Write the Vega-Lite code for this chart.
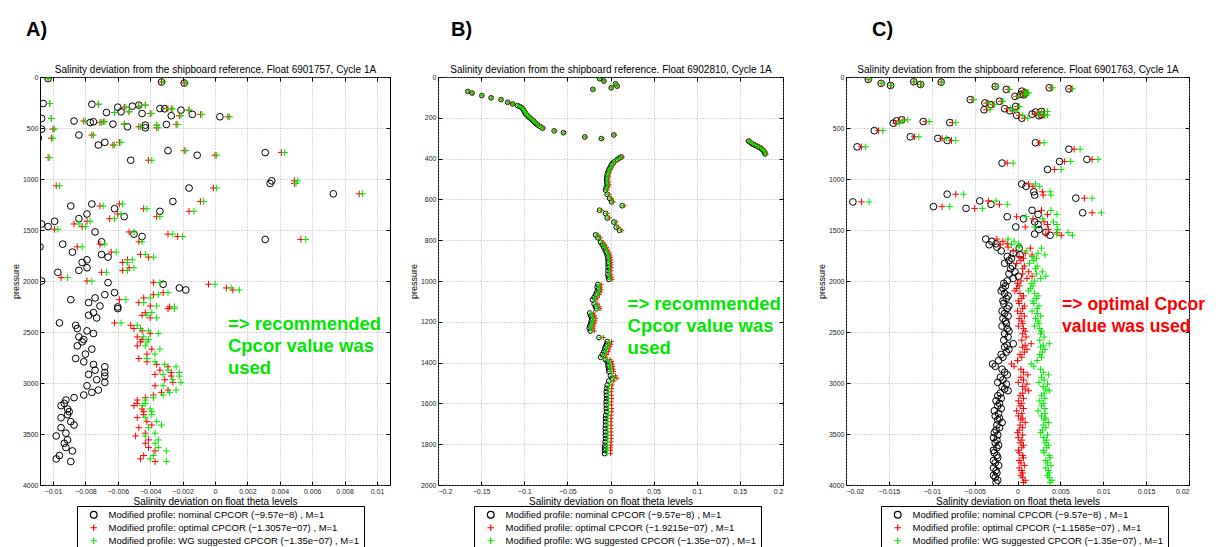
{
"$schema": "https://vega.github.io/schema/vega-lite/v6.json",
"padding": {"left": 10, "top": 19, "right": 0, "bottom": 0},
"background": "white",
"config": {
  "font": "Liberation Sans",
  "view": {"stroke": "#000", "strokeWidth": 1},
  "axis": {"domain": false, "tickSize": -4, "tickColor": "#000", "tickWidth": 1, "labelFontSize": 7, "labelColor": "#222", "labelPadding": 6, "titleFontSize": 10, "titleFontWeight": "normal", "titleColor": "#000", "gridColor": "#a0a0a0", "gridDash": [1, 2], "gridWidth": 0.8, "titlePadding": 2},
  "axisY": {"titleFontSize": 9, "titleFontWeight": "normal"},
  "legend": {"orient": "none", "direction": "vertical", "strokeColor": "#000", "strokeWidth": 1, "fillColor": "#fff", "padding": 4, "labelFontSize": 9.5, "labelLimit": 400, "labelColor": "#000", "symbolStrokeWidth": 1.2, "symbolSize": 45, "rowPadding": 0, "labelOffset": 10, "symbolOffset": 8, "cornerRadius": 0},
  "title": {"anchor": "start", "frame": "group", "fontSize": 20, "fontWeight": "bold", "color": "#000", "offset": 25}
},
"datasets": {
"A": [
{"p":16,"n":-0.0103,"o":-0.0103,"w":-0.0103},{"p":49,"n":-0.0033,"o":-0.0033,"w":-0.0032},{"p":59,"n":-0.0019,"o":-0.0019,"w":-0.0018},
{"p":260,"n":-0.0106,"o":-0.0102,"w":-0.0102},{"p":267,"n":-0.0076,"o":-0.0072,"w":-0.0072},{"p":296,"n":-0.006,"o":-0.0056,"w":-0.0055},
{"p":341,"n":-0.0058,"o":-0.0053,"w":-0.0053},{"p":286,"n":-0.0051,"o":-0.0047,"w":-0.0047},{"p":276,"n":-0.0047,"o":-0.0043,"w":-0.0043},
{"p":309,"n":-0.0034,"o":-0.003,"w":-0.0029},{"p":312,"n":-0.0031,"o":-0.0027,"w":-0.0026},{"p":325,"n":-0.0021,"o":-0.0016,"w":-0.0016},
{"p":348,"n":-0.0067,"o":-0.0062,"w":-0.0062},{"p":358,"n":-0.0045,"o":-0.004,"w":-0.0039},{"p":380,"n":-0.0027,"o":-0.0022,"w":-0.0021},
{"p":367,"n":-0.0014,"o":-0.0009,"w":-0.0008},{"p":390,"n":0.0003,"o":0.0008,"w":0.0009},{"p":406,"n":-0.0107,"o":-0.0101,"w":-0.0101},
{"p":432,"n":-0.0087,"o":-0.0081,"w":-0.008},{"p":446,"n":-0.0077,"o":-0.0071,"w":-0.007},{"p":439,"n":-0.0075,"o":-0.0069,"w":-0.0068},
{"p":462,"n":-0.0063,"o":-0.0056,"w":-0.0056},{"p":488,"n":-0.0054,"o":-0.0047,"w":-0.0046},{"p":472,"n":-0.0043,"o":-0.0036,"w":-0.0036},
{"p":498,"n":-0.0043,"o":-0.0036,"w":-0.0035},{"p":465,"n":-0.003,"o":-0.0024,"w":-0.0023},{"p":511,"n":-0.0107,"o":-0.01,"w":-0.0099},
{"p":600,"n":-0.0109,"o":-0.0101,"w":-0.01},{"p":569,"n":-0.0084,"o":-0.0076,"w":-0.0075},{"p":667,"n":-0.0072,"o":-0.0063,"w":-0.0062},
{"p":641,"n":-0.0068,"o":-0.0059,"w":-0.0058},{"p":722,"n":-0.0029,"o":-0.0019,"w":-0.0018},{"p":767,"n":-0.0011,"o":0.0,"w":0.0001},
{"p":816,"n":-0.0052,"o":-0.0041,"w":-0.0039},{"p":790,"n":-0.0114,"o":-0.0103,"w":-0.0102},{"p":741,"n":0.0031,"o":0.0041,"w":0.0043},
{"p":1018,"n":0.0035,"o":0.0049,"w":0.0051},{"p":1044,"n":0.0034,"o":0.0049,"w":0.005},{"p":1089,"n":-0.0016,"o":-0.0001,"w":0.0001},
{"p":1145,"n":0.0073,"o":0.0089,"w":0.0091},{"p":1067,"n":-0.0113,"o":-0.0098,"w":-0.0096},{"p":1265,"n":-0.0089,"o":-0.0071,"w":-0.0069},
{"p":1245,"n":-0.0076,"o":-0.0059,"w":-0.0057},{"p":1291,"n":-0.0062,"o":-0.0044,"w":-0.0042},{"p":1343,"n":-0.0079,"o":-0.006,"w":-0.0058},
{"p":1369,"n":-0.0056,"o":-0.0036,"w":-0.0034},{"p":1389,"n":-0.0084,"o":-0.0065,"w":-0.0062},{"p":1317,"n":-0.0034,"o":-0.0016,"w":-0.0013},
{"p":1220,"n":-0.0026,"o":-0.0009,"w":-0.0007},{"p":1441,"n":-0.0107,"o":-0.0087,"w":-0.0084},{"p":1467,"n":-0.0103,"o":-0.0082,"w":-0.008},
{"p":1415,"n":-0.0099,"o":-0.0079,"w":-0.0077},{"p":1519,"n":-0.0074,"o":-0.0053,"w":-0.005},{"p":1541,"n":-0.005,"o":-0.0029,"w":-0.0026},
{"p":1564,"n":-0.0045,"o":-0.0023,"w":-0.002},{"p":1593,"n":0.0031,"o":0.0053,"w":0.0056},{"p":1493,"n":-0.012,"o":-0.0099,"w":-0.0097},
{"p":1616,"n":-0.007,"o":-0.0047,"w":-0.0045},{"p":1665,"n":-0.0108,"o":-0.0085,"w":-0.0082},{"p":1639,"n":-0.0094,"o":-0.0071,"w":-0.0068},
{"p":1717,"n":-0.0088,"o":-0.0064,"w":-0.0061},{"p":1740,"n":-0.007,"o":-0.0046,"w":-0.0043},{"p":1766,"n":-0.0066,"o":-0.0041,"w":-0.0038},
{"p":1818,"n":-0.0082,"o":-0.0057,"w":-0.0054},{"p":1792,"n":-0.0079,"o":-0.0054,"w":-0.0051},{"p":1896,"n":-0.0084,"o":-0.0057,"w":-0.0054},
{"p":1870,"n":-0.0079,"o":-0.0053,"w":-0.005},{"p":1915,"n":-0.0097,"o":-0.007,"w":-0.0067},{"p":1967,"n":-0.0122,"o":-0.0095,"w":-0.0091},
{"p":2000,"n":-0.0107,"o":-0.0079,"w":-0.0076},{"p":2016,"n":-0.0066,"o":-0.0038,"w":-0.0034},{"p":2032,"n":-0.0032,"o":-0.0004,"w":0.0},
{"p":2068,"n":-0.0022,"o":0.0007,"w":0.001},{"p":2088,"n":-0.0018,"o":0.0011,"w":0.0015},
{"p":2183,"n":-0.0089,"o":-0.0059,"w":-0.0055},{"p":2212,"n":-0.0078,"o":-0.0047,"w":-0.0044},{"p":2166,"n":-0.0074,"o":-0.0044,"w":-0.004},
{"p":2134,"n":-0.0068,"o":-0.0038,"w":-0.0035},{"p":2245,"n":-0.0071,"o":-0.004,"w":-0.0036},{"p":2114,"n":-0.0062,"o":-0.0032,"w":-0.0029},
{"p":2271,"n":-0.006,"o":-0.0029,"w":-0.0025},{"p":2254,"n":-0.006,"o":-0.0028,"w":-0.0025},{"p":2310,"n":-0.0075,"o":-0.0043,"w":-0.0039},
{"p":2336,"n":-0.0078,"o":-0.0045,"w":-0.0042},{"p":2362,"n":-0.0073,"o":-0.004,"w":-0.0036},{"p":2411,"n":-0.0096,"o":-0.0062,"w":-0.0058},
{"p":2434,"n":-0.0086,"o":-0.0052,"w":-0.0048},{"p":2466,"n":-0.0085,"o":-0.005,"w":-0.0046},{"p":2489,"n":-0.0079,"o":-0.0045,"w":-0.0041},
{"p":2515,"n":-0.0075,"o":-0.004,"w":-0.0035},{"p":2548,"n":-0.0084,"o":-0.0048,"w":-0.0044},{"p":2574,"n":-0.0081,"o":-0.0045,"w":-0.0041},
{"p":2597,"n":-0.0082,"o":-0.0046,"w":-0.0042},{"p":2636,"n":-0.0085,"o":-0.0048,"w":-0.0043},{"p":2668,"n":-0.0076,"o":-0.0039,"w":-0.0034},
{"p":2717,"n":-0.008,"o":-0.0042,"w":-0.0037},{"p":2760,"n":-0.0086,"o":-0.0047,"w":-0.0042},{"p":2792,"n":-0.0081,"o":-0.0042,"w":-0.0037},
{"p":2818,"n":-0.0075,"o":-0.0036,"w":-0.0031},{"p":2841,"n":-0.0068,"o":-0.0029,"w":-0.0024},{"p":2874,"n":-0.0074,"o":-0.0034,"w":-0.0029},
{"p":2916,"n":-0.0078,"o":-0.0037,"w":-0.0032},{"p":2897,"n":-0.0068,"o":-0.0027,"w":-0.0022},{"p":2932,"n":-0.0068,"o":-0.0027,"w":-0.0022},
{"p":2968,"n":-0.0073,"o":-0.0031,"w":-0.0026},{"p":2994,"n":-0.0068,"o":-0.0026,"w":-0.0021},{"p":3027,"n":-0.0079,"o":-0.0037,"w":-0.0032},
{"p":3069,"n":-0.0072,"o":-0.0029,"w":-0.0024},{"p":3092,"n":-0.0076,"o":-0.0033,"w":-0.0028},{"p":3118,"n":-0.0081,"o":-0.0038,"w":-0.0032},
{"p":3144,"n":-0.0087,"o":-0.0043,"w":-0.0038},{"p":3167,"n":-0.0092,"o":-0.0048,"w":-0.0043},{"p":3200,"n":-0.0093,"o":-0.0048,"w":-0.0043},
{"p":3222,"n":-0.0095,"o":-0.005,"w":-0.0045},{"p":3255,"n":-0.0091,"o":-0.0045,"w":-0.004},{"p":3281,"n":-0.009,"o":-0.0044,"w":-0.0039},
{"p":3340,"n":-0.0095,"o":-0.0048,"w":-0.0043},{"p":3310,"n":-0.0091,"o":-0.0044,"w":-0.0039},{"p":3379,"n":-0.0089,"o":-0.0042,"w":-0.0036},
{"p":3412,"n":-0.0087,"o":-0.0039,"w":-0.0033},{"p":3438,"n":-0.0095,"o":-0.0047,"w":-0.0041},{"p":3519,"n":-0.0098,"o":-0.0049,"w":-0.0043},
{"p":3492,"n":-0.0092,"o":-0.0043,"w":-0.0037},{"p":3558,"n":-0.0091,"o":-0.0041,"w":-0.0035},{"p":3591,"n":-0.0093,"o":-0.0043,"w":-0.0037},
{"p":3633,"n":-0.0092,"o":-0.0041,"w":-0.0035},{"p":3666,"n":-0.0088,"o":-0.0037,"w":-0.003},{"p":3711,"n":-0.0096,"o":-0.0044,"w":-0.0038},
{"p":3744,"n":-0.0098,"o":-0.0046,"w":-0.004},{"p":3770,"n":-0.0089,"o":-0.0037,"w":-0.003}
],
"B": [
{"p":8,"n":-0.0127,"o":-0.0127,"w":-0.0127},{"p":20,"n":-0.0077,"o":-0.0076,"w":-0.0077},{"p":61,"n":-0.0204,"o":-0.0202,"w":-0.0203},
{"p":33,"n":0.0058,"o":0.0059,"w":0.0059},{"p":45,"n":0.0077,"o":0.0079,"w":0.0078},{"p":53,"n":0.0008,"o":0.001,"w":0.0009},
{"p":71,"n":-0.1654,"o":-0.1651,"w":-0.1653},{"p":79,"n":-0.1604,"o":-0.1601,"w":-0.1603},{"p":91,"n":-0.1492,"o":-0.1489,"w":-0.1491},
{"p":102,"n":-0.1384,"o":-0.138,"w":-0.1382},{"p":111,"n":-0.1269,"o":-0.1265,"w":-0.1267},{"p":124,"n":-0.1192,"o":-0.1187,"w":-0.119},
{"p":132,"n":-0.1134,"o":-0.1129,"w":-0.1132},{"p":140,"n":-0.1076,"o":-0.1071,"w":-0.1074},{"p":145,"n":-0.105,"o":-0.1044,"w":-0.1048},
{"p":152,"n":-0.1026,"o":-0.102,"w":-0.1024},{"p":160,"n":-0.101,"o":-0.1004,"w":-0.1007},{"p":169,"n":-0.0999,"o":-0.0993,"w":-0.0996},
{"p":175,"n":-0.099,"o":-0.0983,"w":-0.0987},{"p":182,"n":-0.098,"o":-0.0973,"w":-0.0977},{"p":188,"n":-0.0965,"o":-0.0958,"w":-0.0962},
{"p":195,"n":-0.0949,"o":-0.0942,"w":-0.0946},{"p":200,"n":-0.0935,"o":-0.0927,"w":-0.0932},{"p":208,"n":-0.0914,"o":-0.0906,"w":-0.0911},
{"p":214,"n":-0.09,"o":-0.0892,"w":-0.0897},{"p":220,"n":-0.0884,"o":-0.0876,"w":-0.088},{"p":228,"n":-0.0865,"o":-0.0856,"w":-0.0861},
{"p":235,"n":-0.0845,"o":-0.0836,"w":-0.0841},{"p":243,"n":-0.0815,"o":-0.0806,"w":-0.0811},{"p":251,"n":-0.0787,"o":-0.0777,"w":-0.0783},
{"p":264,"n":-0.0653,"o":-0.0643,"w":-0.0649},{"p":273,"n":-0.0545,"o":-0.0535,"w":-0.0541},{"p":284,"n":0.0039,"o":0.005,"w":0.0044},
{"p":294,"n":-0.0298,"o":-0.0287,"w":-0.0293},{"p":302,"n":-0.0106,"o":-0.0095,"w":-0.0101},
{"p":314,"n":0.16,"o":0.1612,"w":0.1605},{"p":320,"n":0.162,"o":0.1632,"w":0.1625},{"p":326,"n":0.1638,"o":0.165,"w":0.1643},
{"p":331,"n":0.166,"o":0.1673,"w":0.1665},{"p":336,"n":0.1684,"o":0.1697,"w":0.1689},{"p":342,"n":0.171,"o":0.1723,"w":0.1715},
{"p":347,"n":0.1735,"o":0.1748,"w":0.1741},{"p":354,"n":0.1755,"o":0.1768,"w":0.1761},{"p":360,"n":0.1773,"o":0.1787,"w":0.1779},
{"p":368,"n":0.1785,"o":0.1799,"w":0.1791},{"p":377,"n":0.1792,"o":0.1806,"w":0.1798},
{"p":392,"n":0.0125,"o":0.014,"w":0.0131},{"p":398,"n":0.01,"o":0.0115,"w":0.0106},{"p":405,"n":0.0077,"o":0.0092,"w":0.0083},
{"p":417,"n":0.0039,"o":0.0055,"w":0.0046},{"p":425,"n":0.002,"o":0.0036,"w":0.0027},{"p":433,"n":0.0008,"o":0.0024,"w":0.0015},
{"p":445,"n":-0.0005,"o":0.0012,"w":0.0002},{"p":455,"n":-0.0019,"o":-0.0002,"w":-0.0012},{"p":467,"n":-0.003,"o":-0.0012,"w":-0.0023},
{"p":479,"n":-0.0038,"o":-0.002,"w":-0.003},{"p":491,"n":-0.0042,"o":-0.0023,"w":-0.0034},{"p":504,"n":-0.0046,"o":-0.0027,"w":-0.0038},
{"p":516,"n":-0.0043,"o":-0.0023,"w":-0.0035},{"p":529,"n":-0.0038,"o":-0.0018,"w":-0.003},{"p":541,"n":-0.005,"o":-0.0029,"w":-0.0041},
{"p":554,"n":-0.0058,"o":-0.0037,"w":-0.0049},{"p":575,"n":-0.0038,"o":-0.0016,"w":-0.0029},{"p":595,"n":-0.001,"o":0.0013,"w":0.0},
{"p":612,"n":0.0012,"o":0.0035,"w":0.0022},{"p":631,"n":0.0135,"o":0.0159,"w":0.0145},{"p":653,"n":-0.0127,"o":-0.0102,"w":-0.0117},
{"p":669,"n":-0.0058,"o":-0.0033,"w":-0.0047},{"p":691,"n":-0.0038,"o":-0.0012,"w":-0.0027},{"p":711,"n":0.0039,"o":0.0066,"w":0.005},
{"p":736,"n":0.0065,"o":0.0093,"w":0.0077},{"p":752,"n":0.0104,"o":0.0133,"w":0.0116},{"p":774,"n":-0.0173,"o":-0.0144,"w":-0.0161},
{"p":788,"n":-0.0146,"o":-0.0116,"w":-0.0133},{"p":810,"n":-0.0115,"o":-0.0084,"w":-0.0102},{"p":822,"n":-0.0095,"o":-0.0064,"w":-0.0082},
{"p":835,"n":-0.0077,"o":-0.0045,"w":-0.0064},{"p":848,"n":-0.0062,"o":-0.003,"w":-0.0048},{"p":860,"n":-0.005,"o":-0.0017,"w":-0.0036},
{"p":872,"n":-0.004,"o":-0.0007,"w":-0.0026},{"p":884,"n":-0.0031,"o":0.0003,"w":-0.0017},{"p":897,"n":-0.0029,"o":0.0005,"w":-0.0015},
{"p":909,"n":-0.0027,"o":0.0008,"w":-0.0012},{"p":921,"n":-0.0027,"o":0.0008,"w":-0.0012},{"p":934,"n":-0.0027,"o":0.0008,"w":-0.0012},
{"p":950,"n":-0.0029,"o":0.0007,"w":-0.0014},{"p":967,"n":-0.0031,"o":0.0006,"w":-0.0016},{"p":980,"n":-0.0025,"o":0.0012,"w":-0.0009},
{"p":992,"n":-0.0019,"o":0.0019,"w":-0.0003},{"p":1017,"n":-0.0146,"o":-0.0107,"w":-0.013},{"p":1030,"n":-0.0155,"o":-0.0116,"w":-0.0139},
{"p":1043,"n":-0.0144,"o":-0.0104,"w":-0.0127},{"p":1055,"n":-0.016,"o":-0.012,"w":-0.0143},{"p":1067,"n":-0.0171,"o":-0.013,"w":-0.0154},
{"p":1080,"n":-0.019,"o":-0.0149,"w":-0.0173},{"p":1092,"n":-0.021,"o":-0.0168,"w":-0.0193},{"p":1113,"n":-0.019,"o":-0.0148,"w":-0.0172},
{"p":1125,"n":-0.0175,"o":-0.0132,"w":-0.0157},{"p":1136,"n":-0.0164,"o":-0.0121,"w":-0.0146},{"p":1157,"n":-0.0241,"o":-0.0197,"w":-0.0222},
{"p":1170,"n":-0.023,"o":-0.0186,"w":-0.0211},{"p":1182,"n":-0.0217,"o":-0.0172,"w":-0.0198},{"p":1195,"n":-0.0222,"o":-0.0177,"w":-0.0203},
{"p":1207,"n":-0.0229,"o":-0.0183,"w":-0.021},{"p":1220,"n":-0.024,"o":-0.0194,"w":-0.022},{"p":1231,"n":-0.0248,"o":-0.0201,"w":-0.0228},
{"p":1245,"n":-0.0235,"o":-0.0188,"w":-0.0215},{"p":1277,"n":-0.0133,"o":-0.0084,"w":-0.0113},{"p":1297,"n":-0.0038,"o":0.0011,"w":-0.0017},
{"p":1310,"n":-0.0045,"o":0.0005,"w":-0.0024},{"p":1321,"n":-0.0058,"o":-0.0008,"w":-0.0037},{"p":1333,"n":-0.0068,"o":-0.0017,"w":-0.0047},
{"p":1346,"n":-0.0077,"o":-0.0026,"w":-0.0055},{"p":1360,"n":-0.0095,"o":-0.0043,"w":-0.0073},{"p":1374,"n":-0.0115,"o":-0.0063,"w":-0.0093},
{"p":1385,"n":-0.006,"o":-0.0007,"w":-0.0038},{"p":1395,"n":-0.0038,"o":0.0015,"w":-0.0016},{"p":1408,"n":-0.003,"o":0.0024,"w":-0.0007},
{"p":1420,"n":-0.0027,"o":0.0027,"w":-0.0004},{"p":1432,"n":-0.0022,"o":0.0032,"w":0.0001},{"p":1444,"n":-0.0019,"o":0.0036,"w":0.0004},
{"p":1464,"n":0.0,"o":0.0056,"w":0.0023},{"p":1477,"n":0.0019,"o":0.0075,"w":0.0043},{"p":1490,"n":-0.002,"o":0.0037,"w":0.0004},
{"p":1510,"n":-0.0038,"o":0.0019,"w":-0.0014},{"p":1527,"n":-0.0045,"o":0.0013,"w":-0.0021},{"p":1543,"n":-0.005,"o":0.0009,"w":-0.0025},
{"p":1560,"n":-0.0048,"o":0.0011,"w":-0.0023},{"p":1576,"n":-0.0046,"o":0.0014,"w":-0.0021},{"p":1592,"n":-0.005,"o":0.001,"w":-0.0025},
{"p":1608,"n":-0.005,"o":0.0011,"w":-0.0024},{"p":1625,"n":-0.0048,"o":0.0014,"w":-0.0022},{"p":1641,"n":-0.0046,"o":0.0016,"w":-0.002},
{"p":1658,"n":-0.0055,"o":0.0008,"w":-0.0028},{"p":1674,"n":-0.0058,"o":0.0006,"w":-0.0031},{"p":1690,"n":-0.0058,"o":0.0006,"w":-0.0031},
{"p":1707,"n":-0.0058,"o":0.0007,"w":-0.0031},{"p":1723,"n":-0.006,"o":0.0005,"w":-0.0032},{"p":1740,"n":-0.0058,"o":0.0008,"w":-0.003},
{"p":1756,"n":-0.006,"o":0.0007,"w":-0.0032},{"p":1772,"n":-0.0058,"o":0.0009,"w":-0.003},{"p":1789,"n":-0.0062,"o":0.0006,"w":-0.0033},
{"p":1805,"n":-0.0065,"o":0.0004,"w":-0.0036},{"p":1818,"n":-0.0067,"o":0.0002,"w":-0.0038},{"p":1830,"n":-0.0069,"o":0.0001,"w":-0.004},
{"p":1846,"n":-0.0069,"o":0.0001,"w":-0.0039}
],
"C": [
{"p":23,"n":-0.0174,"o":-0.0174,"w":-0.0173},{"p":46,"n":-0.0121,"o":-0.0121,"w":-0.012},{"p":50,"n":-0.0089,"o":-0.0089,"w":-0.0088},
{"p":63,"n":-0.0159,"o":-0.0159,"w":-0.0158},{"p":73,"n":-0.0113,"o":-0.0113,"w":-0.0112},{"p":83,"n":-0.0148,"o":-0.0148,"w":-0.0147},
{"p":93,"n":-0.0026,"o":-0.0026,"w":-0.0025},{"p":106,"n":0.0037,"o":0.0039,"w":0.0041},{"p":116,"n":0.006,"o":0.0062,"w":0.0064},
{"p":122,"n":-0.0013,"o":-0.0011,"w":-0.0009},{"p":139,"n":0.0005,"o":0.0007,"w":0.0009},{"p":156,"n":0.0009,"o":0.0011,"w":0.0013},
{"p":170,"n":0.0004,"o":0.0006,"w":0.0008},{"p":175,"n":0.0007,"o":0.0009,"w":0.0011},{"p":189,"n":-0.0003,"o":-0.0001,"w":0.0001},
{"p":222,"n":-0.0055,"o":-0.0053,"w":-0.0051},{"p":238,"n":-0.0021,"o":-0.0019,"w":-0.0017},{"p":255,"n":-0.0038,"o":-0.0036,"w":-0.0034},
{"p":271,"n":-0.0031,"o":-0.0029,"w":-0.0027},{"p":288,"n":-0.0002,"o":0.0,"w":0.0002},{"p":311,"n":-0.0015,"o":-0.0012,"w":-0.0008},
{"p":321,"n":-0.0039,"o":-0.0036,"w":-0.0032},{"p":331,"n":-0.0009,"o":-0.0006,"w":-0.0002},{"p":338,"n":0.0028,"o":0.0031,"w":0.0035},
{"p":344,"n":0.0021,"o":0.0024,"w":0.0028},{"p":364,"n":0.0017,"o":0.002,"w":0.0024},{"p":371,"n":0.0028,"o":0.0031,"w":0.0035},
{"p":375,"n":-0.0001,"o":0.0002,"w":0.0006},{"p":380,"n":0.0025,"o":0.0028,"w":0.0032},{"p":404,"n":0.0005,"o":0.0008,"w":0.0012},
{"p":420,"n":-0.0135,"o":-0.0132,"w":-0.0128},{"p":430,"n":-0.0141,"o":-0.0138,"w":-0.0134},{"p":437,"n":-0.011,"o":-0.0107,"w":-0.0103},
{"p":447,"n":-0.0079,"o":-0.0076,"w":-0.0072},{"p":453,"n":-0.0145,"o":-0.0142,"w":-0.0138},{"p":526,"n":-0.0167,"o":-0.0162,"w":-0.0157},
{"p":586,"n":-0.0125,"o":-0.012,"w":-0.0115},{"p":602,"n":-0.0093,"o":-0.0088,"w":-0.0083},{"p":622,"n":-0.0082,"o":-0.0077,"w":-0.0072},
{"p":645,"n":0.0021,"o":0.0026,"w":0.0031},{"p":685,"n":-0.0187,"o":-0.0182,"w":-0.0177},{"p":708,"n":0.006,"o":0.0066,"w":0.0073},
{"p":808,"n":0.0081,"o":0.0087,"w":0.0094},{"p":828,"n":0.0049,"o":0.0055,"w":0.0062},{"p":844,"n":-0.0018,"o":-0.0012,"w":-0.0005},
{"p":907,"n":0.0035,"o":0.0043,"w":0.0051},{"p":1049,"n":0.0005,"o":0.0013,"w":0.0021},{"p":1072,"n":0.001,"o":0.0018,"w":0.0026},
{"p":1125,"n":0.0019,"o":0.0029,"w":0.0038},{"p":1149,"n":-0.0082,"o":-0.0072,"w":-0.0063},{"p":1158,"n":0.002,"o":0.003,"w":0.0039},
{"p":1188,"n":0.0068,"o":0.0078,"w":0.0087},{"p":1215,"n":-0.0044,"o":-0.0034,"w":-0.0025},{"p":1225,"n":-0.0192,"o":-0.0182,"w":-0.0173},
{"p":1248,"n":-0.0031,"o":-0.0021,"w":-0.0012},{"p":1271,"n":-0.0098,"o":-0.0088,"w":-0.0079},{"p":1288,"n":-0.006,"o":-0.005,"w":-0.0041},
{"p":1307,"n":0.0017,"o":0.0028,"w":0.0039},{"p":1331,"n":0.0076,"o":0.0087,"w":0.0098},{"p":1347,"n":0.0024,"o":0.0035,"w":0.0046},
{"p":1370,"n":-0.0012,"o":-0.0001,"w":0.001},{"p":1390,"n":0.0007,"o":0.0018,"w":0.0029},{"p":1420,"n":0.002,"o":0.0031,"w":0.0042},
{"p":1446,"n":0.0024,"o":0.0035,"w":0.0046},{"p":1470,"n":-0.0002,"o":0.0009,"w":0.002},{"p":1496,"n":0.0025,"o":0.0036,"w":0.0047},
{"p":1523,"n":0.0033,"o":0.0046,"w":0.0059},{"p":1540,"n":0.002,"o":0.0033,"w":0.0046},{"p":1552,"n":0.0038,"o":0.0051,"w":0.0064},
{"p":1589,"n":-0.0037,"o":-0.0024,"w":-0.0011},{"p":1610,"n":-0.003,"o":-0.0017,"w":-0.0004},{"p":1635,"n":-0.0025,"o":-0.0012,"w":0.0001},
{"p":1645,"n":-0.0033,"o":-0.002,"w":-0.0007},{"p":1668,"n":-0.0024,"o":-0.0011,"w":0.0002},{"p":1678,"n":0.0002,"o":0.0015,"w":0.0028},
{"p":1705,"n":-0.0019,"o":-0.0005,"w":0.001},{"p":1728,"n":-0.0005,"o":0.0009,"w":0.0024},{"p":1744,"n":0.0003,"o":0.0017,"w":0.0032},
{"p":1760,"n":-0.0012,"o":0.0002,"w":0.0017},{"p":1777,"n":-0.0007,"o":0.0007,"w":0.0022},{"p":1800,"n":-0.001,"o":0.0004,"w":0.0019},
{"p":1827,"n":-0.0015,"o":-0.0001,"w":0.0014},{"p":1854,"n":-0.0006,"o":0.0008,"w":0.0023},{"p":1880,"n":-0.0008,"o":0.0006,"w":0.0021},
{"p":1910,"n":-0.0003,"o":0.0013,"w":0.0029},{"p":1930,"n":-0.001,"o":0.0006,"w":0.0022},{"p":1953,"n":0.0001,"o":0.0017,"w":0.0033},
{"p":1975,"n":-0.0005,"o":0.0011,"w":0.0027},{"p":2000,"n":-0.0012,"o":0.0004,"w":0.002},{"p":2023,"n":-0.0016,"o":0.0,"w":0.0016},
{"p":2048,"n":-0.0014,"o":0.0002,"w":0.0018},{"p":2072,"n":-0.0017,"o":-0.0001,"w":0.0015},{"p":2097,"n":-0.0019,"o":-0.0003,"w":0.0013},
{"p":2122,"n":-0.0015,"o":0.0003,"w":0.002},{"p":2146,"n":-0.0011,"o":0.0007,"w":0.0024},{"p":2171,"n":-0.0013,"o":0.0005,"w":0.0022},
{"p":2195,"n":-0.0017,"o":0.0001,"w":0.0018},{"p":2220,"n":-0.0016,"o":0.0002,"w":0.0019},{"p":2245,"n":-0.001,"o":0.0008,"w":0.0025},
{"p":2270,"n":-0.0012,"o":0.0006,"w":0.0023},{"p":2295,"n":-0.0018,"o":0.0,"w":0.0017},{"p":2319,"n":-0.0015,"o":0.0004,"w":0.0023},
{"p":2344,"n":-0.0011,"o":0.0008,"w":0.0027},{"p":2368,"n":-0.0017,"o":0.0002,"w":0.0021},{"p":2393,"n":-0.0014,"o":0.0005,"w":0.0024},
{"p":2418,"n":-0.0013,"o":0.0006,"w":0.0025},{"p":2442,"n":-0.0018,"o":0.0001,"w":0.002},{"p":2467,"n":-0.0012,"o":0.0007,"w":0.0026},
{"p":2492,"n":-0.001,"o":0.0009,"w":0.0028},{"p":2517,"n":-0.0015,"o":0.0006,"w":0.0027},{"p":2549,"n":-0.0011,"o":0.001,"w":0.0031},
{"p":2580,"n":-0.0016,"o":0.0005,"w":0.0026},{"p":2615,"n":-0.0005,"o":0.0016,"w":0.0037},{"p":2630,"n":-0.0012,"o":0.0009,"w":0.003},
{"p":2648,"n":-0.0015,"o":0.0006,"w":0.0027},{"p":2670,"n":-0.001,"o":0.0011,"w":0.0032},{"p":2697,"n":-0.0013,"o":0.0008,"w":0.0029},
{"p":2720,"n":-0.0019,"o":0.0003,"w":0.0026},{"p":2747,"n":-0.0017,"o":0.0005,"w":0.0028},{"p":2780,"n":-0.0022,"o":0.0,"w":0.0023},
{"p":2813,"n":-0.0029,"o":-0.0007,"w":0.0016},{"p":2836,"n":-0.0026,"o":-0.0004,"w":0.0019},{"p":2865,"n":-0.0018,"o":0.0004,"w":0.0027},
{"p":2895,"n":-0.0015,"o":0.0007,"w":0.003},{"p":2920,"n":-0.0012,"o":0.0012,"w":0.0036},{"p":2944,"n":-0.002,"o":0.0004,"w":0.0028},
{"p":2970,"n":-0.0017,"o":0.0007,"w":0.0031},{"p":2994,"n":-0.0023,"o":0.0001,"w":0.0025},{"p":3010,"n":-0.0013,"o":0.0011,"w":0.0035},
{"p":3035,"n":-0.0018,"o":0.0006,"w":0.003},{"p":3059,"n":-0.0015,"o":0.0009,"w":0.0033},{"p":3076,"n":-0.0011,"o":0.0013,"w":0.0037},
{"p":3100,"n":-0.002,"o":0.0006,"w":0.0031},{"p":3125,"n":-0.0023,"o":0.0003,"w":0.0028},{"p":3150,"n":-0.0019,"o":0.0007,"w":0.0032},
{"p":3175,"n":-0.0025,"o":0.0001,"w":0.0026},{"p":3200,"n":-0.0021,"o":0.0005,"w":0.003},{"p":3224,"n":-0.0023,"o":0.0003,"w":0.0028},
{"p":3250,"n":-0.0019,"o":0.0007,"w":0.0032},{"p":3273,"n":-0.0027,"o":-0.0001,"w":0.0024},{"p":3300,"n":-0.0022,"o":0.0005,"w":0.0032},
{"p":3323,"n":-0.0026,"o":0.0001,"w":0.0028},{"p":3345,"n":-0.0021,"o":0.0006,"w":0.0033},{"p":3362,"n":-0.0023,"o":0.0004,"w":0.0031},
{"p":3388,"n":-0.0018,"o":0.0009,"w":0.0036},{"p":3412,"n":-0.0024,"o":0.0003,"w":0.003},{"p":3438,"n":-0.0021,"o":0.0006,"w":0.0033},
{"p":3462,"n":-0.0025,"o":0.0002,"w":0.0029},{"p":3487,"n":-0.0027,"o":0.0,"w":0.0027},{"p":3510,"n":-0.0023,"o":0.0006,"w":0.0035},
{"p":3536,"n":-0.0028,"o":0.0001,"w":0.003},{"p":3560,"n":-0.0024,"o":0.0005,"w":0.0034},{"p":3586,"n":-0.0026,"o":0.0003,"w":0.0032},
{"p":3610,"n":-0.0022,"o":0.0007,"w":0.0036},{"p":3635,"n":-0.0024,"o":0.0005,"w":0.0034},{"p":3660,"n":-0.0028,"o":0.0001,"w":0.003},
{"p":3684,"n":-0.0027,"o":0.0002,"w":0.0031},{"p":3710,"n":-0.0024,"o":0.0006,"w":0.0037},{"p":3734,"n":-0.0023,"o":0.0007,"w":0.0038},
{"p":3760,"n":-0.0028,"o":0.0002,"w":0.0033},{"p":3783,"n":-0.0026,"o":0.0004,"w":0.0035},{"p":3808,"n":-0.0022,"o":0.0008,"w":0.0039},
{"p":3833,"n":-0.0028,"o":0.0002,"w":0.0033},{"p":3858,"n":-0.0025,"o":0.0005,"w":0.0036},{"p":3882,"n":-0.0024,"o":0.0006,"w":0.0037},
{"p":3905,"n":-0.0028,"o":0.0004,"w":0.0035},{"p":3925,"n":-0.0026,"o":0.0006,"w":0.0037},{"p":3954,"n":-0.0023,"o":0.0009,"w":0.004},
{"p":3975,"n":-0.0025,"o":0.0007,"w":0.0038}
]
},
"spacing": 48,
"bounds": "flush",
"resolve": {"scale": {"color": "independent", "shape": "independent"}},
"hconcat": [
{
  "width": 350, "height": 408,
  "title": {"text": "A)", "dx": -14},
  "resolve": {"axis": {"x": "independent", "y": "independent"}},
  "layer": [
    {
      "data": {"name": "A"},
      "transform": [{"fold": ["n", "o", "w"], "as": ["k", "v"]}],
      "mark": {"type": "point", "filled": false, "size": 45, "strokeWidth": 1, "opacity": 1, "clip": true},
      "encoding": {
        "x": {"field": "v", "type": "quantitative", "scale": {"domain": [-0.0108, 0.0108], "nice": false, "zero": false},
              "axis": {"values": [-0.01, -0.008, -0.006, -0.004, -0.002, 0, 0.002, 0.004, 0.006, 0.008, 0.01], "format": "~g", "grid": true, "title": "Salinity deviation on float theta levels"}},
        "y": {"field": "p", "type": "quantitative", "scale": {"domain": [0, 4000], "reverse": true, "nice": false, "zero": false},
              "axis": {"values": [0, 500, 1000, 1500, 2000, 2500, 3000, 3500, 4000], "format": "d", "grid": true, "title": "pressure"}},
        "color": {"field": "k", "type": "nominal", "scale": {"domain": ["n", "o", "w"], "range": ["#000000", "#ff0000", "#00e600"]},
                  "legend": {"title": null, "legendX": 37, "legendY": 429, "labelExpr": "datum.label == 'n' ? 'Modified profile: nominal CPCOR  (−9.57e−8) , M=1' : datum.label == 'o' ? 'Modified profile: optimal CPCOR (−1.3057e−07) , M=1' : 'Modified profile: WG suggested CPCOR (−1.35e−07) , M=1'"}},
        "shape": {"field": "k", "type": "nominal", "scale": {"domain": ["n", "o", "w"], "range": ["circle", "M-1,0H1M0,-1V1", "M-1,0H1M0,-1V1"]},
                  "legend": {"title": null, "legendX": 37, "legendY": 429, "labelExpr": "datum.label == 'n' ? 'Modified profile: nominal CPCOR  (−9.57e−8) , M=1' : datum.label == 'o' ? 'Modified profile: optimal CPCOR (−1.3057e−07) , M=1' : 'Modified profile: WG suggested CPCOR (−1.35e−07) , M=1'"}},
        "order": {"field": "k", "sort": "ascending"}
      }
    },
    {
      "data": {"values": [{}]},
      "mark": {"type": "text", "align": "left", "baseline": "alphabetic", "fontSize": 18.5, "fontWeight": "bold", "lineHeight": 22, "color": "#00e600", "text": ["=> recommended", "Cpcor value was", "used"]},
      "encoding": {
        "x": {"datum": 0.0008, "type": "quantitative", "axis": {"orient": "top", "labels": false, "grid": false, "values": [-0.01, -0.008, -0.006, -0.004, -0.002, 0, 0.002, 0.004, 0.006, 0.008, 0.01], "title": "Salinity deviation from the shipboard reference. Float 6901757, Cycle 1A"}},
        "y": {"datum": 2476, "type": "quantitative", "axis": {"orient": "right", "labels": false, "grid": false, "values": [0, 500, 1000, 1500, 2000, 2500, 3000, 3500, 4000], "title": null}}
      }
    }
  ]
},
{
  "spacing": 63,
  "bounds": "flush",
  "resolve": {"scale": {"color": "independent", "shape": "independent"}},
  "hconcat": [
  {
    "width": 345, "height": 408,
    "title": {"text": "B)", "dx": 13},
    "resolve": {"axis": {"x": "independent", "y": "independent"}},
    "layer": [
      {
        "data": {"name": "B"},
        "transform": [{"fold": ["n", "o", "w"], "as": ["k", "v"]}],
        "mark": {"type": "point", "filled": false, "size": 22, "strokeWidth": 1, "opacity": 1, "clip": true},
        "encoding": {
          "x": {"field": "v", "type": "quantitative", "scale": {"domain": [-0.2, 0.2], "nice": false, "zero": false},
                "axis": {"values": [-0.2, -0.15, -0.1, -0.05, 0, 0.05, 0.1, 0.15, 0.2], "format": "~g", "grid": true, "title": "Salinity deviation on float theta levels"}},
          "y": {"field": "p", "type": "quantitative", "scale": {"domain": [0, 2000], "reverse": true, "nice": false, "zero": false},
                "axis": {"values": [0, 200, 400, 600, 800, 1000, 1200, 1400, 1600, 1800, 2000], "format": "d", "grid": true, "title": "pressure"}},
          "color": {"field": "k", "type": "nominal", "scale": {"domain": ["n", "o", "w"], "range": ["#000000", "#ff0000", "#00e600"]},
                    "legend": {"title": null, "legendX": 36, "legendY": 429, "labelExpr": "datum.label == 'n' ? 'Modified profile: nominal CPCOR  (−9.57e−8) , M=1' : datum.label == 'o' ? 'Modified profile: optimal CPCOR (−1.9215e−07) , M=1' : 'Modified profile: WG suggested CPCOR (−1.35e−07) , M=1'"}},
          "shape": {"field": "k", "type": "nominal", "scale": {"domain": ["n", "o", "w"], "range": ["circle", "M-1,0H1M0,-1V1", "M-1,0H1M0,-1V1"]},
                    "legend": {"title": null, "legendX": 36, "legendY": 429, "labelExpr": "datum.label == 'n' ? 'Modified profile: nominal CPCOR  (−9.57e−8) , M=1' : datum.label == 'o' ? 'Modified profile: optimal CPCOR (−1.9215e−07) , M=1' : 'Modified profile: WG suggested CPCOR (−1.35e−07) , M=1'"}},
          "order": {"field": "k", "sort": "ascending"}
        }
      },
      {
        "data": {"values": [{}]},
        "mark": {"type": "text", "align": "left", "baseline": "alphabetic", "fontSize": 18.5, "fontWeight": "bold", "lineHeight": 22, "color": "#00e600", "text": ["=> recommended", "Cpcor value was", "used"]},
        "encoding": {
          "x": {"datum": 0.0198, "type": "quantitative", "axis": {"orient": "top", "labels": false, "grid": false, "values": [-0.2, -0.15, -0.1, -0.05, 0, 0.05, 0.1, 0.15, 0.2], "title": "Salinity deviation from the shipboard reference. Float 6902810, Cycle 1A"}},
          "y": {"datum": 1143, "type": "quantitative", "axis": {"orient": "right", "labels": false, "grid": false, "values": [0, 200, 400, 600, 800, 1000, 1200, 1400, 1600, 1800, 2000], "title": null}}
        }
      }
    ]
  },
  {
    "width": 343, "height": 408,
    "title": {"text": "C)", "dx": 26},
    "resolve": {"axis": {"x": "independent", "y": "independent"}},
    "layer": [
      {
        "data": {"name": "C"},
        "transform": [{"fold": ["n", "o", "w"], "as": ["k", "v"]}],
        "mark": {"type": "point", "filled": false, "size": 45, "strokeWidth": 1, "opacity": 1, "clip": true},
        "encoding": {
          "x": {"field": "v", "type": "quantitative", "scale": {"domain": [-0.02, 0.02], "nice": false, "zero": false},
                "axis": {"values": [-0.02, -0.015, -0.01, -0.005, 0, 0.005, 0.01, 0.015, 0.02], "format": "~g", "grid": true, "title": "Salinity deviation on float theta levels"}},
          "y": {"field": "p", "type": "quantitative", "scale": {"domain": [0, 4000], "reverse": true, "nice": false, "zero": false},
                "axis": {"values": [0, 500, 1000, 1500, 2000, 2500, 3000, 3500, 4000], "format": "d", "grid": true, "title": "pressure"}},
          "color": {"field": "k", "type": "nominal", "scale": {"domain": ["n", "o", "w"], "range": ["#000000", "#ff0000", "#00e600"]},
                    "legend": {"title": null, "legendX": 35, "legendY": 429, "labelExpr": "datum.label == 'n' ? 'Modified profile: nominal CPCOR  (−9.57e−8) , M=1' : datum.label == 'o' ? 'Modified profile: optimal CPCOR (−1.1585e−07) , M=1' : 'Modified profile: WG suggested CPCOR (−1.35e−07) , M=1'"}},
          "shape": {"field": "k", "type": "nominal", "scale": {"domain": ["n", "o", "w"], "range": ["circle", "M-1,0H1M0,-1V1", "M-1,0H1M0,-1V1"]},
                    "legend": {"title": null, "legendX": 35, "legendY": 429, "labelExpr": "datum.label == 'n' ? 'Modified profile: nominal CPCOR  (−9.57e−8) , M=1' : datum.label == 'o' ? 'Modified profile: optimal CPCOR (−1.1585e−07) , M=1' : 'Modified profile: WG suggested CPCOR (−1.35e−07) , M=1'"}},
          "order": {"field": "k", "sort": "ascending"}
        }
      },
      {
        "data": {"values": [{}]},
        "mark": {"type": "text", "align": "left", "baseline": "alphabetic", "fontSize": 17.5, "fontWeight": "bold", "lineHeight": 22, "color": "#ff0000", "text": ["=> optimal Cpcor", "value was used"]},
        "encoding": {
          "x": {"datum": 0.0052, "type": "quantitative", "axis": {"orient": "top", "labels": false, "grid": false, "values": [-0.02, -0.015, -0.01, -0.005, 0, 0.005, 0.01, 0.015, 0.02], "title": "Salinity deviation from the shipboard reference. Float 6901763, Cycle 1A"}},
          "y": {"datum": 2286, "type": "quantitative", "axis": {"orient": "right", "labels": false, "grid": false, "values": [0, 500, 1000, 1500, 2000, 2500, 3000, 3500, 4000], "title": null}}
        }
      }
    ]
  }
  ]
}
]
}
